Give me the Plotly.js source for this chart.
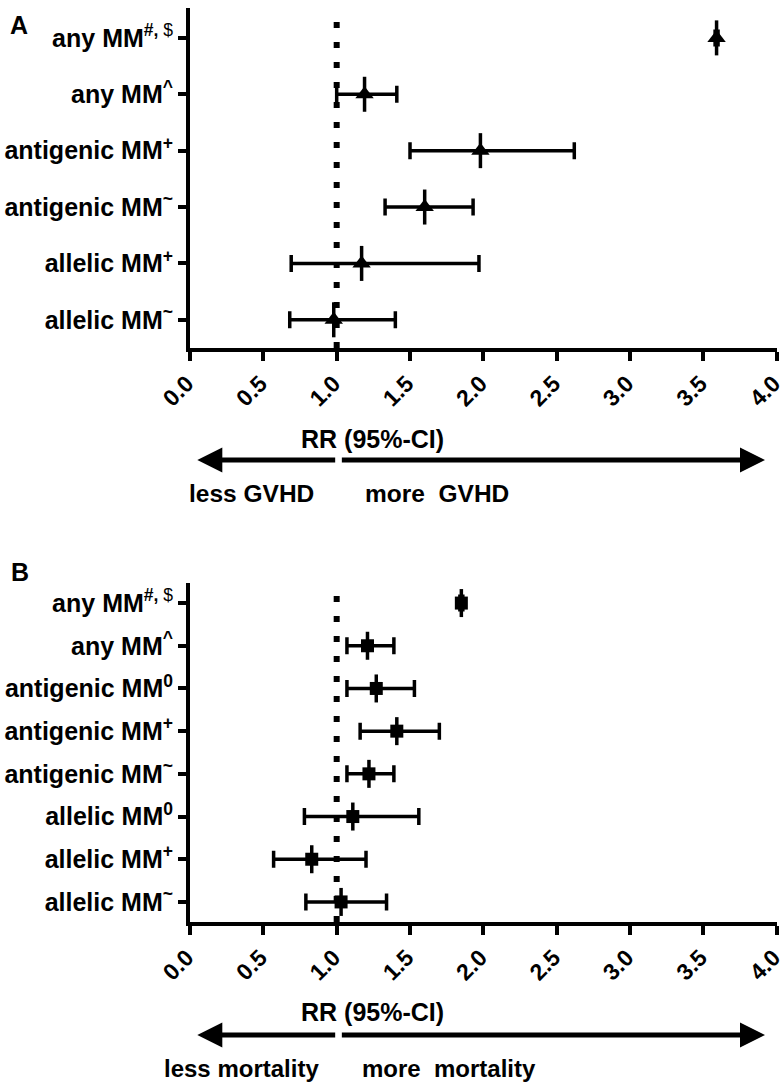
<!DOCTYPE html>
<html>
<head>
<meta charset="utf-8">
<script src="https://cdn.plot.ly/plotly-3.0.1.min.js"></script>
<style>html,body{margin:0;padding:0;background:#fff;}#chart{width:784px;height:1088px;}</style>
</head>
<body>
<div id="chart"></div>
<script>
// Panel A: GVHD
const catsA = ['any MM<sup>#, <span style="font-weight:normal">$</span></sup>', 'any MM<sup>^</sup>', 'antigenic MM<sup>+</sup>', 'antigenic MM<sup>~</sup>', 'allelic MM<sup>+</sup>', 'allelic MM<sup>~</sup>'];
const estA = [3.59, 1.19, 1.98, 1.60, 1.17, 0.98];
const loA  = [3.58, 1.00, 1.50, 1.33, 0.69, 0.68];
const hiA  = [3.60, 1.41, 2.62, 1.93, 1.97, 1.40];

// Panel B: mortality
const catsB = ['any MM<sup>#, <span style="font-weight:normal">$</span></sup>', 'any MM<sup>^</sup>', 'antigenic MM<sup>0</sup>', 'antigenic MM<sup>+</sup>', 'antigenic MM<sup>~</sup>', 'allelic MM<sup>0</sup>', 'allelic MM<sup>+</sup>', 'allelic MM<sup>~</sup>'];
const estB = [1.85, 1.21, 1.27, 1.41, 1.22, 1.11, 0.83, 1.03];
const loB  = [1.84, 1.07, 1.07, 1.16, 1.07, 0.78, 0.57, 0.79];
const hiB  = [1.86, 1.39, 1.53, 1.70, 1.39, 1.56, 1.20, 1.34];

const xTickVals = [0, 0.5, 1, 1.5, 2, 2.5, 3, 3.5, 4];
const xTickText = ['0.0', '0.5', '1.0', '1.5', '2.0', '2.5', '3.0', '3.5', '4.0'];

const FONT = 'Liberation Sans, Arial, Helvetica, sans-serif';
const K = '#000';

function plus(est, hi) { return est.map((v, i) => hi[i] - v); }
function minus(est, lo) { return est.map((v, i) => v - lo[i]); }

const traces = [
  {x: estA, y: catsA, xaxis: 'x', yaxis: 'y', type: 'scatter', mode: 'markers', hoverinfo: 'skip',
   marker: {symbol: 'line-ns', size: 25, color: K, line: {width: 3.5, color: K}}},
  {x: estA, y: catsA, xaxis: 'x', yaxis: 'y', type: 'scatter', mode: 'markers',
   marker: {symbol: 'triangle-up', size: 16, color: K},
   error_x: {type: 'data', symmetric: false, array: plus(estA, hiA), arrayminus: minus(estA, loA), color: K, thickness: 3.5, width: 8.5}},
  {x: estB, y: catsB, xaxis: 'x2', yaxis: 'y2', type: 'scatter', mode: 'markers', hoverinfo: 'skip',
   marker: {symbol: 'line-ns', size: 20, color: K, line: {width: 3.5, color: K}}},
  {x: estB, y: catsB, xaxis: 'x2', yaxis: 'y2', type: 'scatter', mode: 'markers',
   marker: {symbol: 'square', size: 13, color: K},
   error_x: {type: 'data', symmetric: false, array: plus(estB, hiB), arrayminus: minus(estB, loB), color: K, thickness: 3.5, width: 8.5}}
];

function xax(anchor) {
  return {anchor: anchor, domain: [0, 1], range: [0, 4.002], tickvals: xTickVals, ticktext: xTickText,
    tickangle: -45, ticks: 'outside', ticklen: 9, tickwidth: 4, tickcolor: K, ticklabeloverflow: 'allow',
    ticklabelshift: -3,
    showline: true, linewidth: 4, linecolor: K, showgrid: false, zeroline: false,
    tickfont: {family: FONT, size: 23, color: K, weight: 'bold'}};
}
function yax(anchor, dom, cats, rng) {
  return {anchor: anchor, domain: dom, type: 'category', categoryorder: 'array', categoryarray: cats,
    range: rng, ticks: 'outside', ticklen: 8, tickwidth: 4, tickcolor: K,
    showline: true, linewidth: 4, linecolor: K, showgrid: false, zeroline: false,
    tickfont: {family: FONT, size: 25, color: K, weight: 'bold'}};
}

const H = 1088;
const py = p => 1 - p / H;

function arrowsFor(xr, yPix) {
  return [
    {xref: xr, axref: xr, yref: 'paper', ayref: 'pixel', x: 0.05, ax: 1.0, y: py(yPix), ay: 0,
     showarrow: true, arrowhead: 2, arrowsize: 1, arrowwidth: 5, arrowcolor: K, text: ''},
    {xref: xr, axref: xr, yref: 'paper', ayref: 'pixel', x: 3.92, ax: 1.025, y: py(yPix), ay: 0,
     showarrow: true, arrowhead: 2, arrowsize: 1, arrowwidth: 5, arrowcolor: K, text: ''}
  ];
}
function txt(text, xPix, yPix, anchor, size) {
  return {xref: 'paper', yref: 'paper', x: (xPix - 190) / 587, y: py(yPix), xanchor: anchor, yanchor: 'middle',
    text: text, showarrow: false, font: {family: FONT, size: size, color: K, weight: 'bold'}};
}

const layout = {
  width: 784, height: 1088, paper_bgcolor: '#fff', plot_bgcolor: '#fff',
  margin: {l: 190, r: 7, t: 0, b: 0}, showlegend: false,
  xaxis: xax('y'), yaxis: yax('x', [py(348), py(8)], catsA, [5.5, -0.53]),
  xaxis2: xax('y2'), yaxis2: yax('x2', [py(922), py(583)], catsB, [7.47, -0.47]),
  shapes: [
    {type: 'line', xref: 'x', yref: 'y domain', x0: 1, x1: 1, y0: 0, y1: 1, layer: 'below',
     line: {color: K, width: 6, dash: '6px,14px'}},
    {type: 'line', xref: 'x2', yref: 'y2 domain', x0: 1, x1: 1, y0: 0, y1: 1, layer: 'below',
     line: {color: K, width: 6, dash: '6px,14px'}}
  ],
  annotations: [
    ...arrowsFor('x', 460),
    ...arrowsFor('x2', 1035),
    txt('RR (95%-CI)', 372, 439, 'center', 25),
    txt('less GVHD', 187, 493, 'left', 24.5),
    txt('more  GVHD', 363, 493, 'left', 24.5),
    txt('RR (95%-CI)', 372, 1012, 'center', 25),
    txt('less mortality', 162, 1068, 'left', 24),
    txt('more  mortality', 360, 1068, 'left', 24),
    txt('A', 8, 25, 'left', 25),
    txt('B', 9, 572, 'left', 25)
  ]
};

Plotly.newPlot('chart', traces, layout, {displayModeBar: false, staticPlot: true});
</script>
</body>
</html>
